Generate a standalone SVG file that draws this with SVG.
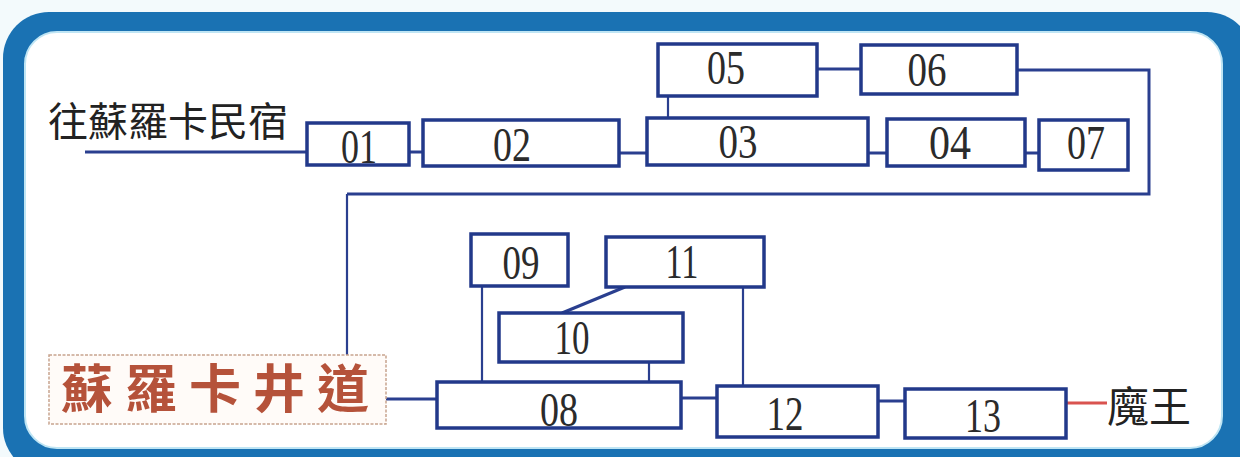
<svg xmlns="http://www.w3.org/2000/svg" width="1240" height="457" viewBox="0 0 1240 457">
<style>
.box{fill:#ffffff;stroke:#22398a;stroke-width:3.5}
.con{fill:none;stroke:#2a3f8f;stroke-width:3}
.thin{fill:none;stroke:#2a3f8f;stroke-width:2.2}
.num{font-family:"Liberation Serif",serif;font-size:48px;fill:#2b2b2b;text-anchor:middle}
.cjk{font-family:"Noto Sans CJK TC","Noto Sans CJK SC",sans-serif;fill:#222222}
</style>
<rect x="0" y="0" width="1240" height="457" fill="#f3fafc"/>
<g id="frame">
<rect x="3" y="12" width="1250" height="462" rx="46" fill="#1a72b3"/>
<rect x="25" y="32" width="1197" height="416" rx="32" fill="#ffffff" stroke="#bfe5f4" stroke-width="2"/>
</g>
<g id="connectors">
<line class="con" x1="85" y1="152" x2="307" y2="152"/>
<line class="con" x1="409" y1="152" x2="423" y2="152"/>
<line class="con" x1="619" y1="153" x2="647" y2="153"/>
<line class="con" x1="868" y1="153" x2="887" y2="153"/>
<line class="con" x1="1025" y1="153" x2="1039" y2="153"/>
<line class="thin" x1="668" y1="96" x2="668" y2="118"/>
<line class="con" x1="817" y1="69" x2="861" y2="69"/>
<polyline class="con" points="1017,70 1149,70 1149,194 347,194"/>
<line class="thin" x1="347" y1="194" x2="347" y2="355"/>
<line class="con" x1="386" y1="399" x2="437" y2="399"/>
<line class="thin" x1="482" y1="286" x2="482" y2="382"/>
<line class="con" x1="625" y1="287" x2="562" y2="313"/>
<line class="thin" x1="649" y1="362" x2="649" y2="382"/>
<line class="thin" x1="743" y1="287" x2="743" y2="386"/>
<line class="con" x1="681" y1="398" x2="717" y2="398"/>
<line class="con" x1="878" y1="401" x2="905" y2="401"/>
<line x1="1066" y1="403" x2="1107" y2="403" stroke="#d9534f" stroke-width="3"/>
</g>
<g id="n01"><rect class="box" x="307" y="123" width="102" height="42"/><text class="num" x="359" y="163" textLength="36" lengthAdjust="spacingAndGlyphs">01</text></g>
<g id="n02"><rect class="box" x="423" y="120" width="196" height="46"/><text class="num" x="512" y="161" textLength="38" lengthAdjust="spacingAndGlyphs">02</text></g>
<g id="n03"><rect class="box" x="647" y="118" width="221" height="47"/><text class="num" x="738" y="158" textLength="39" lengthAdjust="spacingAndGlyphs">03</text></g>
<g id="n04"><rect class="box" x="887" y="119" width="138" height="47"/><text class="num" x="950" y="159" textLength="42" lengthAdjust="spacingAndGlyphs">04</text></g>
<g id="n07"><rect class="box" x="1039" y="120" width="89" height="50"/><text class="num" x="1086" y="159" textLength="38" lengthAdjust="spacingAndGlyphs">07</text></g>
<g id="n05"><rect class="box" x="658" y="44" width="159" height="52"/><text class="num" x="726" y="84" textLength="38" lengthAdjust="spacingAndGlyphs">05</text></g>
<g id="n06"><rect class="box" x="861" y="45" width="156" height="49"/><text class="num" x="927" y="86" textLength="39" lengthAdjust="spacingAndGlyphs">06</text></g>
<g id="n09"><rect class="box" x="471" y="234" width="97" height="52"/><text class="num" x="521" y="279" textLength="37" lengthAdjust="spacingAndGlyphs">09</text></g>
<g id="n11"><rect class="box" x="606" y="237" width="158" height="50"/><text class="num" x="682" y="278" textLength="33" lengthAdjust="spacingAndGlyphs">11</text></g>
<g id="n10"><rect class="box" x="499" y="313" width="184" height="49"/><text class="num" x="572" y="354" textLength="35" lengthAdjust="spacingAndGlyphs">10</text></g>
<g id="n08"><rect class="box" x="437" y="382" width="244" height="46"/><text class="num" x="559" y="426" textLength="38" lengthAdjust="spacingAndGlyphs">08</text></g>
<g id="n12"><rect class="box" x="717" y="386" width="161" height="51"/><text class="num" x="785" y="430" textLength="37" lengthAdjust="spacingAndGlyphs">12</text></g>
<g id="n13"><rect class="box" x="905" y="389" width="161" height="49"/><text class="num" x="983" y="432" textLength="36" lengthAdjust="spacingAndGlyphs">13</text></g>
<g id="start"><text class="cjk" x="48" y="136" font-size="40">往蘇羅卡民宿</text></g>
<g id="end"><text class="cjk" x="1107" y="422" font-size="42">魔王</text></g>
<g id="label">
<rect x="49" y="355" width="337" height="69" fill="#fffbf8" stroke="#c7a48e" stroke-width="1.5" stroke-dasharray="3,1.5"/>
<text x="61" y="408" font-family="Noto Sans CJK TC, Noto Sans CJK SC, sans-serif" font-size="52" font-weight="bold" fill="#b5523a" letter-spacing="12">蘇羅卡井道</text>
</g>
</svg>
